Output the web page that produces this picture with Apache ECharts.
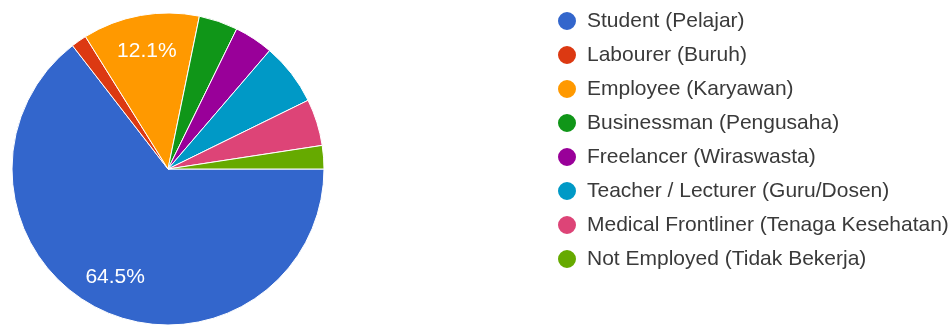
<!DOCTYPE html>
<html>
<head>
<meta charset="utf-8">
<script src="https://cdn.jsdelivr.net/npm/echarts@6/dist/echarts.min.js"></script>
<style>
html,body{margin:0;padding:0;background:#fff;}
#chart{width:951px;height:325px;}
</style>
</head>
<body>
<div id="chart"></div>
<script>
const categories = [
  'Student (Pelajar)',
  'Labourer (Buruh)',
  'Employee (Karyawan)',
  'Businessman (Pengusaha)',
  'Freelancer (Wiraswasta)',
  'Teacher / Lecturer (Guru/Dosen)',
  'Medical Frontliner (Tenaga Kesehatan)',
  'Not Employed (Tidak Bekerja)'
];
const counts = [80, 2, 15, 5, 5, 8, 6, 3];
const colors = ['#3366cc', '#dc3912', '#ff9900', '#109618', '#990099', '#0099c6', '#dd4477', '#66aa00'];

const total = counts.reduce((a, b) => a + b, 0);
const pieData = categories.map((n, i) => ({ name: n, value: counts[i] }));
const FONT = '"Liberation Sans", Arial, sans-serif';

const chart = echarts.init(document.getElementById('chart'), null, { renderer: 'canvas' });
chart.setOption({
  animation: false,
  color: colors,
  legend: {
    orient: 'vertical',
    left: 551,
    top: 5,
    icon: 'circle',
    itemWidth: 30,
    itemHeight: 20,
    itemGap: 12,
    data: categories,
    selectedMode: false,
    textStyle: { fontFamily: FONT, fontSize: 21, color: '#3a3a3a', lineHeight: 22 }
  },
  series: [
    {
      type: 'pie',
      center: [168, 169],
      radius: [0, 156],
      startAngle: 0,
      clockwise: true,
      data: pieData,
      itemStyle: { borderColor: '#fff', borderWidth: 1 },
      label: { show: false },
      labelLine: { show: false },
      emphasis: { disabled: true }
    },
    {
      type: 'pie',
      center: [168, 169],
      radius: [78, 156],
      startAngle: 0,
      clockwise: true,
      silent: true,
      data: pieData,
      itemStyle: { color: 'rgba(0,0,0,0)', borderWidth: 0 },
      label: {
        show: true,
        position: 'inside',
        color: '#fff',
        fontFamily: FONT,
        fontSize: 21,
        formatter: function (p) {
          const pct = p.value / total * 100;
          return pct >= 10 ? pct.toFixed(1) + '%' : '';
        }
      },
      labelLine: { show: false },
      emphasis: { disabled: true }
    }
  ]
});
</script>
</body>
</html>
